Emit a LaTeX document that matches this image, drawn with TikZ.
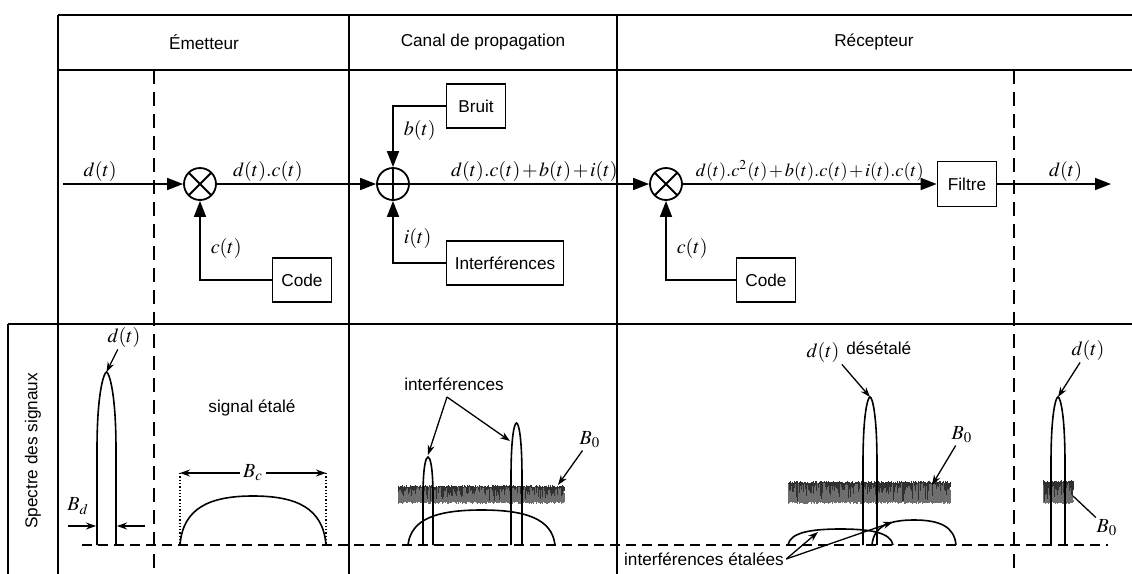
\documentclass[tikz,border=0pt]{standalone}
\usepackage{mathptmx}
\usepackage[no-math]{fontspec}
\setmainfont{Liberation Sans}
\usepackage{xcolor}
\definecolor{cLine}{HTML}{000000}
\definecolor{cNoise}{HTML}{707070}
\definecolor{cNoiseDark}{HTML}{303030}
\usepackage{tikz}
\usetikzlibrary{positioning,arrows.meta}
\tikzset{
  frame-line/.style={line width=1.2pt,draw=cLine},
  frame-dash/.style={line width=1.1pt,draw=cLine,dash pattern=on 7pt off 4pt},
  base-line/.style={line width=0.65pt,draw=cLine,dash pattern=on 5pt off 3pt},
  node-box/.style={draw=cLine,line width=0.8pt,minimum height=22pt,
    minimum width=29.5pt,inner sep=1pt,font=\fontsize{8.6}{10}\selectfont},
  node-mult/.style={draw=cLine,circle,line width=0.9pt,minimum size=16pt,inner sep=0pt,
    path picture={\draw[line width=0.9pt]
      (path picture bounding box.north west) -- (path picture bounding box.south east)
      (path picture bounding box.south west) -- (path picture bounding box.north east);}},
  node-sum/.style={draw=cLine,circle,line width=0.9pt,minimum size=16pt,inner sep=0pt,
    path picture={\draw[line width=0.9pt]
      (path picture bounding box.north) -- (path picture bounding box.south)
      (path picture bounding box.west) -- (path picture bounding box.east);}},
  txt/.style={font=\fontsize{8.6}{10}\selectfont,inner sep=1pt},
  mth/.style={font=\fontsize{10}{12}\selectfont,inner sep=1pt,
    execute at begin node={\medmuskip=1.5mu\relax}},
  mth-small/.style={mth,font=\fontsize{9.2}{11}\selectfont},
  arrow/.style={-{Triangle[length=8pt,width=6pt]},line width=0.8pt,draw=cLine},
  arrow-note/.style={-{Stealth[length=5pt,width=3.5pt]},line width=0.65pt,draw=cLine},
  curve/.style={line width=0.8pt,draw=cLine},
  dim-line/.style={densely dotted,line width=0.65pt,draw=cLine},
}
% narrow spectrum: left x, right x, top y
\newcommand{\specpeak}[3]{%
  \pgfmathsetmacro{\pkmid}{(#1+#2)/2}
  \pgfmathsetmacro{\pkya}{#3+0.45*(545-#3)}
  \pgfmathsetmacro{\pkyb}{#3+0.10*(545-#3)}
  \draw[curve] (#1,545) -- (#1,\pkya) .. controls (#1,\pkyb) and (\pkmid-2,#3) .. (\pkmid,#3)
    .. controls (\pkmid+2,#3) and (#2,\pkyb) .. (#2,\pkya) -- (#2,545);}
% spread spectrum: left x, right x, top y
\newcommand{\specdome}[3]{%
  \pgfmathsetmacro{\dmw}{#2-#1}
  \pgfmathsetmacro{\dmh}{545-#3}
  \draw[curve] (#1,545) .. controls (#1+0.02*\dmw,#3+0.25*\dmh) and (#1+0.2*\dmw,#3) .. (#1+0.5*\dmw,#3)
    .. controls (#2-0.2*\dmw,#3) and (#2-0.02*\dmw,#3+0.25*\dmh) .. (#2,545);}
% white noise band
\newcommand{\noiseband}[4]{%
  \fill[cNoise] (#1,#3) rectangle (#2,#4);
  \foreach \nx in {#1,...,#2}{
    \pgfmathsetmacro{\nya}{#3-2*rnd}
    \pgfmathsetmacro{\nyb}{#4+2*rnd}
    \pgfmathsetmacro{\nyc}{#3+(#4-#3)*rnd}
    \pgfmathsetmacro{\nyd}{#3+(#4-#3)*rnd}
    \draw[cNoiseDark,line width=0.3pt] (\nx,\nya) -- (\nx,\nyc);
    \draw[cNoiseDark!70,line width=0.3pt] (\nx+0.5,\nyd) -- (\nx+0.5,\nyb);
  }}
\begin{document}
\begin{tikzpicture}[x=0.5pt,y=-0.5pt]
  \useasboundingbox (0,0) rectangle (1132,574);
  \pgfmathsetseed{11}

  % table
  \draw[frame-line] (58,15) -- (1132,15);
  \draw[frame-line] (58,70) -- (1132,70);
  \draw[frame-line] (8,324) -- (1132,324);
  \draw[frame-line] (58,15) -- (58,574);
  \draw[frame-line] (349,15) -- (349,574);
  \draw[frame-line] (617,15) -- (617,574);
  \draw[frame-line] (8,324) -- (8,574);
  \draw[frame-dash] (154,70) -- (154,574);
  \draw[frame-dash] (1014,70) -- (1014,574);

  \node[txt] (hEmet) at (204,42) {Émetteur};
  \node[txt] (hCanal) at (483,42) {Canal de propagation};
  \node[txt] (hRecep) at (874,42) {Récepteur};
  \node[txt,rotate=90] (hSpec) at (33,451) {Spectre des signaux};

  % chain
  \coordinate (din) at (63,184);
  \node[node-mult] (mx1) at (200,184) {};
  \node[node-sum] (sum) at (393,184) {};
  \node[node-mult] (mx2) at (666,184) {};
  \node[node-box] (code1) at (302,280) {Code};
  \node[node-box] (bruit) at (476,106) {Bruit};
  \node[node-box,minimum width=58.5pt] (interf) at (505,263) {Interférences};
  \node[node-box] (code2) at (766,280) {Code};
  \node[node-box,minimum height=22.5pt] (filtre) at (967,184) {Filtre};
  \coordinate (dout) at (1111,184);

  \draw[arrow] (din) -- node[mth,above,pos=0.31]{$d(t)$} (mx1);
  \draw[arrow] (mx1) -- node[mth,above,pos=0.32]{$d(t).c(t)$} (sum);
  \draw[arrow] (sum) -- node[mth,above,pos=0.52]{$d(t).c(t)+b(t)+i(t)$} (mx2);
  \draw[arrow] (mx2) -- node[mth-small,above,pos=0.5]{$d(t).c^2(t)+b(t).c(t)+i(t).c(t)$} (filtre);
  \draw[arrow] (filtre) -- node[mth,above,pos=0.6]{$d(t)$} (dout);
  \draw[arrow] (code1) -| node[mth,pos=0.7,right=4pt]{$c(t)$} (mx1);
  \draw[arrow] (bruit) -| node[mth,pos=0.7,right=4pt]{$b(t)$} (sum);
  \draw[arrow] (interf) -| node[mth,pos=0.7,right=4pt]{$i(t)$} (sum);
  \draw[arrow] (code2) -| node[mth,pos=0.7,right=4pt]{$c(t)$} (mx2);

  % spectra
  \draw[base-line] (82,545) -- (1108,545);

  \specpeak{97}{116}{372}
  \coordinate (pk1) at (106.5,372);
  \node[mth] (lblD1) at (124,337) {$d(t)$};
  \draw[arrow-note] (lblD1) -- (pk1);
  \node[mth] (lblBd) at (78,506) {$B_d$};
  \coordinate (bdA) at (68,526);
  \coordinate (bdB) at (96,526);
  \coordinate (bdC) at (145,526);
  \coordinate (bdD) at (117,526);
  \draw[arrow-note] (bdA) -- (bdB);
  \draw[arrow-note] (bdC) -- (bdD);

  \node[txt] (lblSpread) at (252,408) {signal étalé};
  \specdome{180}{326}{496}
  \coordinate (bcL) at (180,473);
  \coordinate (bcR) at (326,473);
  \draw[dim-line] (bcL) -- (180,545);
  \draw[dim-line] (bcR) -- (326,545);
  \draw[arrow-note,{Stealth[length=5pt,width=3.5pt]}-{Stealth[length=5pt,width=3.5pt]}] (bcL) -- node[mth,fill=white,inner sep=1.5pt]{$B_c$} (bcR);

  \specdome{408}{555}{510}
  \noiseband{398}{564}{487}{502}
  \specpeak{423}{433}{457}
  \specpeak{511}{522}{423}
  \node[txt] (lblInt) at (454,384) {interférences};
  \coordinate (intSrc) at (447,397);
  \coordinate (pkIa) at (428,455);
  \coordinate (pkIb) at (510,441);
  \draw[arrow-note] (intSrc) -- (pkIa);
  \draw[arrow-note] (intSrc) -- (pkIb);
  \node[mth] (lblB0a) at (590,440) {$B_0$};
  \coordinate (nbA) at (558,485);
  \draw[arrow-note] (lblB0a) -- (nbA);

  \specdome{788}{893}{529}
  \specdome{872}{956}{520}
  \noiseband{788}{950}{483}{502}
  \specpeak{863}{877}{397}
  \node[mth] (lblD2) at (823,352) {$d(t)$};
  \node[txt,right=1pt of lblD2,yshift=2pt] (lblDes) {désétalé};
  \coordinate (pk2) at (870,397);
  \draw[arrow-note] (lblD2.south east) -- (pk2);
  \node[mth] (lblB0b) at (962,435) {$B_0$};
  \coordinate (nbB) at (932,485);
  \draw[arrow-note] (lblB0b) -- (nbB);
  \node[txt] (lblIntEt) at (704,559) {interférences étalées};
  \coordinate (ieA) at (818,532);
  \coordinate (ieB) at (893,522);
  \draw[arrow-note] (lblIntEt.east) -- (ieA);
  \draw[arrow-note] (lblIntEt.east) -- (ieB);

  \noiseband{1043}{1073}{482}{502}
  \specpeak{1051}{1065}{397}
  \node[mth] (lblD3) at (1088,350) {$d(t)$};
  \coordinate (pk3) at (1058,397);
  \draw[arrow-note] (lblD3) -- (pk3);
  \node[mth] (lblB0c) at (1107,528) {$B_0$};
  \coordinate (nbC) at (1073,496);
  \draw[line width=0.65pt] (lblB0c) -- (nbC);
\end{tikzpicture}
\end{document}
